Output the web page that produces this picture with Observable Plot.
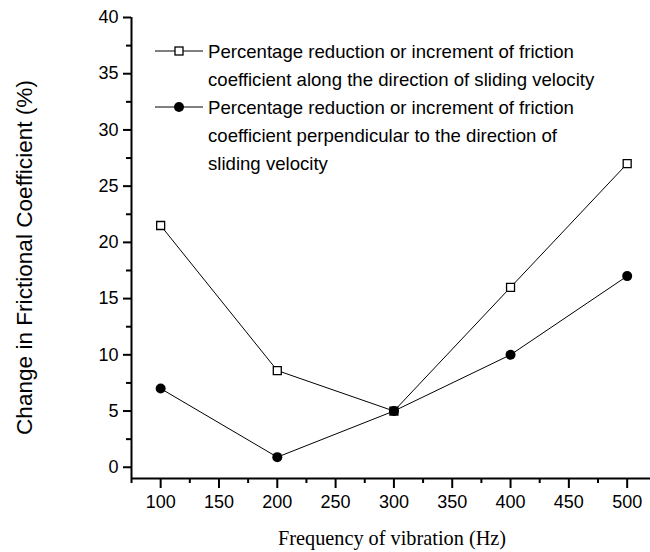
<!DOCTYPE html>
<html>
<head>
<meta charset="utf-8">
<script src="https://cdn.jsdelivr.net/npm/d3@7"></script>
<script src="https://cdn.jsdelivr.net/npm/@observablehq/plot@0.6"></script>
<style>
  html, body { margin: 0; padding: 0; background: #fff; }
  #chart svg { display: block; }
</style>
</head>
<body>
<div id="chart"></div>
<script>
// Frequency of vibration (Hz)
const frequencies = [100, 200, 300, 400, 500];
// Change in friction coefficient (%) along the sliding velocity
const alongValues = [21.5, 8.6, 5, 16, 27];
// Change in friction coefficient (%) perpendicular to the sliding velocity
const perpValues = [7, 0.9, 5, 10, 17];

const seriesNames = [
  ["Percentage reduction or increment of friction",
   "coefficient along the direction of sliding velocity"],
  ["Percentage reduction or increment of friction",
   "coefficient perpendicular to the direction of",
   "sliding velocity"]
];

const xTicks = [100, 150, 200, 250, 300, 350, 400, 450, 500];
const xMinor = [75, 125, 175, 225, 275, 325, 375, 425, 475];
const yTicks = [0, 5, 10, 15, 20, 25, 30, 35, 40];
const yMinor = [2.5, 7.5, 12.5, 17.5, 22.5, 27.5, 32.5, 37.5];
const xDomain = [75, 520];
const yDomain = [-1, 40];

const along = frequencies.map((f, i) => ({f, v: alongValues[i]}));
const perp = frequencies.map((f, i) => ({f, v: perpValues[i]}));
// where both series meet, the square marker is shown solid
const squareFill = d => perpValues[frequencies.indexOf(d.f)] === d.v ? "black" : "white";

const W = 650, H = 552;
const svg = Plot.plot({
  width: W,
  height: H,
  marginLeft: 131,
  marginRight: 0,
  marginTop: 17,
  marginBottom: 74,
  style: {fontFamily: "'Liberation Sans', Arial, sans-serif", color: "black", background: "white", overflow: "visible"},
  x: {domain: xDomain, range: [131, 650]},
  y: {domain: yDomain},
  marks: [
    Plot.axisY(yTicks, {tickSize: 8, tickPadding: 5, fontSize: 18, strokeWidth: 2, label: null}),
    Plot.axisY(yMinor, {tickSize: 5, text: null, strokeWidth: 2, label: null}),
    Plot.axisX(xTicks, {tickSize: 10, tickPadding: 7, fontSize: 18, strokeWidth: 2, label: null}),
    Plot.axisX(xMinor, {tickSize: 5, text: null, strokeWidth: 2, label: null}),
    Plot.ruleX([xDomain[0]], {strokeWidth: 2}),
    Plot.ruleY([yDomain[0]], {strokeWidth: 2}),
    Plot.line(along, {x: "f", y: "v", stroke: "black", strokeWidth: 1}),
    Plot.line(perp, {x: "f", y: "v", stroke: "black", strokeWidth: 1}),
    Plot.dot(perp, {x: "f", y: "v", r: 5, fill: "black", stroke: null}),
    Plot.dot(along, {x: "f", y: "v", r: 4.5, symbol: "square", fill: squareFill, stroke: "black", strokeWidth: 1.3})
  ]
});

const root = d3.select(svg);

// axis titles
root.append("text")
  .attr("x", 392)
  .attr("y", 545)
  .attr("text-anchor", "middle")
  .style("font-family", "'Liberation Serif', 'Times New Roman', serif")
  .style("font-size", "20.3px")
  .attr("fill", "black")
  .text("Frequency of vibration (Hz)");

root.append("text")
  .attr("transform", "translate(32,257.5) rotate(-90)")
  .attr("text-anchor", "middle")
  .style("font-family", "'Liberation Sans', Arial, sans-serif")
  .style("font-size", "22.6px")
  .attr("fill", "black")
  .text("Change in Frictional Coefficient (%)");

// legend
const lg = root.append("g").attr("text-anchor", "start");
const lineH = 28;
let rowY = 51;
seriesNames.forEach((lines, k) => {
  lg.append("line")
    .attr("x1", 155).attr("x2", 203)
    .attr("y1", rowY).attr("y2", rowY)
    .attr("stroke", "black").attr("stroke-width", 1);
  if (k === 0) {
    lg.append("rect")
      .attr("x", 179 - 4).attr("y", rowY - 4)
      .attr("width", 8).attr("height", 8)
      .attr("fill", "white").attr("stroke", "black").attr("stroke-width", 1.3);
  } else {
    lg.append("circle")
      .attr("cx", 179).attr("cy", rowY).attr("r", 5)
      .attr("fill", "black");
  }
  lines.forEach((t, j) => {
    lg.append("text")
      .attr("x", 208)
      .attr("y", rowY + j * lineH)
      .attr("dy", "0.35em")
      .attr("text-anchor", "start")
      .style("font-family", "'Liberation Sans', Arial, sans-serif")
      .style("font-size", "18.6px")
      .attr("fill", "black")
      .text(t);
  });
  rowY += lines.length * lineH;
});

document.getElementById("chart").appendChild(svg);
</script>
</body>
</html>
